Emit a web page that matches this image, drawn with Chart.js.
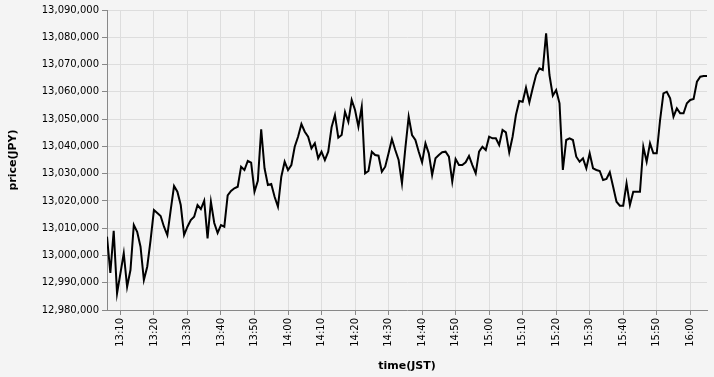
<!DOCTYPE html>
<html>
<head>
<meta charset="utf-8">
<script src="https://cdn.jsdelivr.net/npm/chart.js@4.4.1/dist/chart.umd.min.js"></script>
<style>
  html, body { margin: 0; padding: 0; background: #f4f4f4; }
  canvas { display: block; }
</style>
</head>
<body>
<canvas id="chart" width="714" height="377"></canvas>
<script>
// one price per minute, first one at 13:06
const startTime = '13:06'
const endTime = '16:05'

const prices = [
    13006900, 12993560, 13009070, 12986110, 12993450, 13000780, 12988530, 12994660, 13011160, 13008700,
    13003200, 12990990, 12995870, 13005660, 13016660, 13015560, 13014460, 13010540, 13007490, 13016660,
    13025460, 13023370, 13018490, 13007490, 13010540, 13012990, 13014200, 13018490, 13017030, 13020070,
    13006280, 13019700, 13011890, 13008230, 13011160, 13010540, 13022050, 13023630, 13024620, 13025200,
    13032540, 13031330, 13034630, 13034000, 13023370, 13027400, 13046250, 13031950, 13025830, 13026190,
    13021540, 13017870, 13028870, 13034370, 13031330, 13033160, 13039870, 13043540, 13048200, 13045370,
    13043540, 13039290, 13041120, 13035620, 13038040, 13035000, 13038040, 13046990, 13051500, 13043170,
    13044160, 13052710, 13049040, 13057000, 13053330, 13047210, 13054540, 13030120, 13030960, 13038040,
    13036830, 13036570, 13030710, 13032540, 13037450, 13042700, 13038660, 13035000, 13026450, 13039290,
    13050870, 13044160, 13042330, 13038040, 13034150, 13041120, 13037450, 13029490, 13035620, 13036830,
    13037820, 13038040, 13036200, 13027040, 13035360, 13033160, 13033160, 13034150, 13036460, 13033160,
    13030120, 13038040, 13039870, 13038660, 13043540, 13042950, 13042950, 13040500, 13046000, 13045150,
    13037820, 13043540, 13051500, 13056630, 13056370, 13061510, 13056150, 13061290, 13066160, 13068620,
    13068000, 13081460, 13066160, 13058570, 13060660, 13055790, 13031330, 13042330, 13042950, 13042330,
    13036200, 13034370, 13035620, 13031950, 13037450, 13031950, 13031330, 13030960, 13027660, 13028030,
    13030490, 13025200, 13019700, 13018240, 13018240, 13026450, 13018490, 13023370, 13023370, 13023370,
    13039870, 13034370, 13041120, 13037450, 13037450, 13049660, 13059450, 13060040, 13057620, 13050870,
    13053950, 13052120, 13052120, 13055790, 13057000, 13057360, 13063710, 13065540, 13065800, 13065800
]

const xTickLabels = ['13:10', '13:20', '13:30', '13:40', '13:50', '14:00', '14:10', '14:20', '14:30',
    '14:40', '14:50', '15:00', '15:10', '15:20', '15:30', '15:40', '15:50', '16:00']

const yMin = 12980000
const yMax = 13090000
const yStep = 10000

const toMin = (s) => {
    const [h, m] = s.split(':').map(Number)
    return h * 60 + m
}
const toLabel = (v) => {
    const h = Math.floor(v / 60)
    const m = v % 60
    return h + ':' + String(m).padStart(2, '0')
}

const start = toMin(startTime)
const points = prices.map((p, i) => ({ x: start + i, y: p }))

Chart.defaults.font.family = 'DejaVu Sans'
Chart.defaults.color = '#000'

const config = {
    type: 'line',
    data: {
        datasets: [{
            data: points,
            borderColor: '#000',
            borderWidth: 2,
            pointRadius: 0,
            tension: 0,
            fill: false
        }]
    },
    options: {
        responsive: false,
        animation: false,
        devicePixelRatio: 1,
        layout: { padding: { top: 10, right: 7, left: 0, bottom: 0 } },
        plugins: {
            legend: { display: false },
            tooltip: { enabled: false }
        },
        scales: {
            x: {
                type: 'linear',
                min: start,
                max: toMin(endTime),
                afterBuildTicks: (axis) => {
                    axis.ticks = xTickLabels.map(t => ({ value: toMin(t) }))
                },
                afterFit: (scale) => { scale.height = 67 },
                ticks: {
                    autoSkip: false,
                    minRotation: 90,
                    maxRotation: 90,
                    padding: 3,
                    font: { size: 10 },
                    callback: (v) => toLabel(v)
                },
                grid: { color: '#ddd', tickColor: '#888', tickLength: 5 },
                border: { color: '#888' },
                title: {
                    display: true,
                    text: 'time(JST)',
                    font: { size: 11, weight: 'bold' },
                    padding: { top: 0, bottom: 4 }
                }
            },
            y: {
                min: yMin,
                max: yMax,
                afterFit: (scale) => { scale.width = 107 },
                ticks: {
                    stepSize: yStep,
                    padding: 3,
                    font: { size: 10 },
                    callback: (v) => v.toLocaleString('en-US')
                },
                grid: { color: '#ddd', tickColor: '#888', tickLength: 5 },
                border: { color: '#888' },
                title: {
                    display: true,
                    text: 'price(JPY)',
                    font: { size: 11, weight: 'bold' },
                    padding: { top: 7, bottom: 0 }
                }
            }
        }
    }
}

const chart = new Chart(document.getElementById('chart'), config)
</script>
</body>
</html>
